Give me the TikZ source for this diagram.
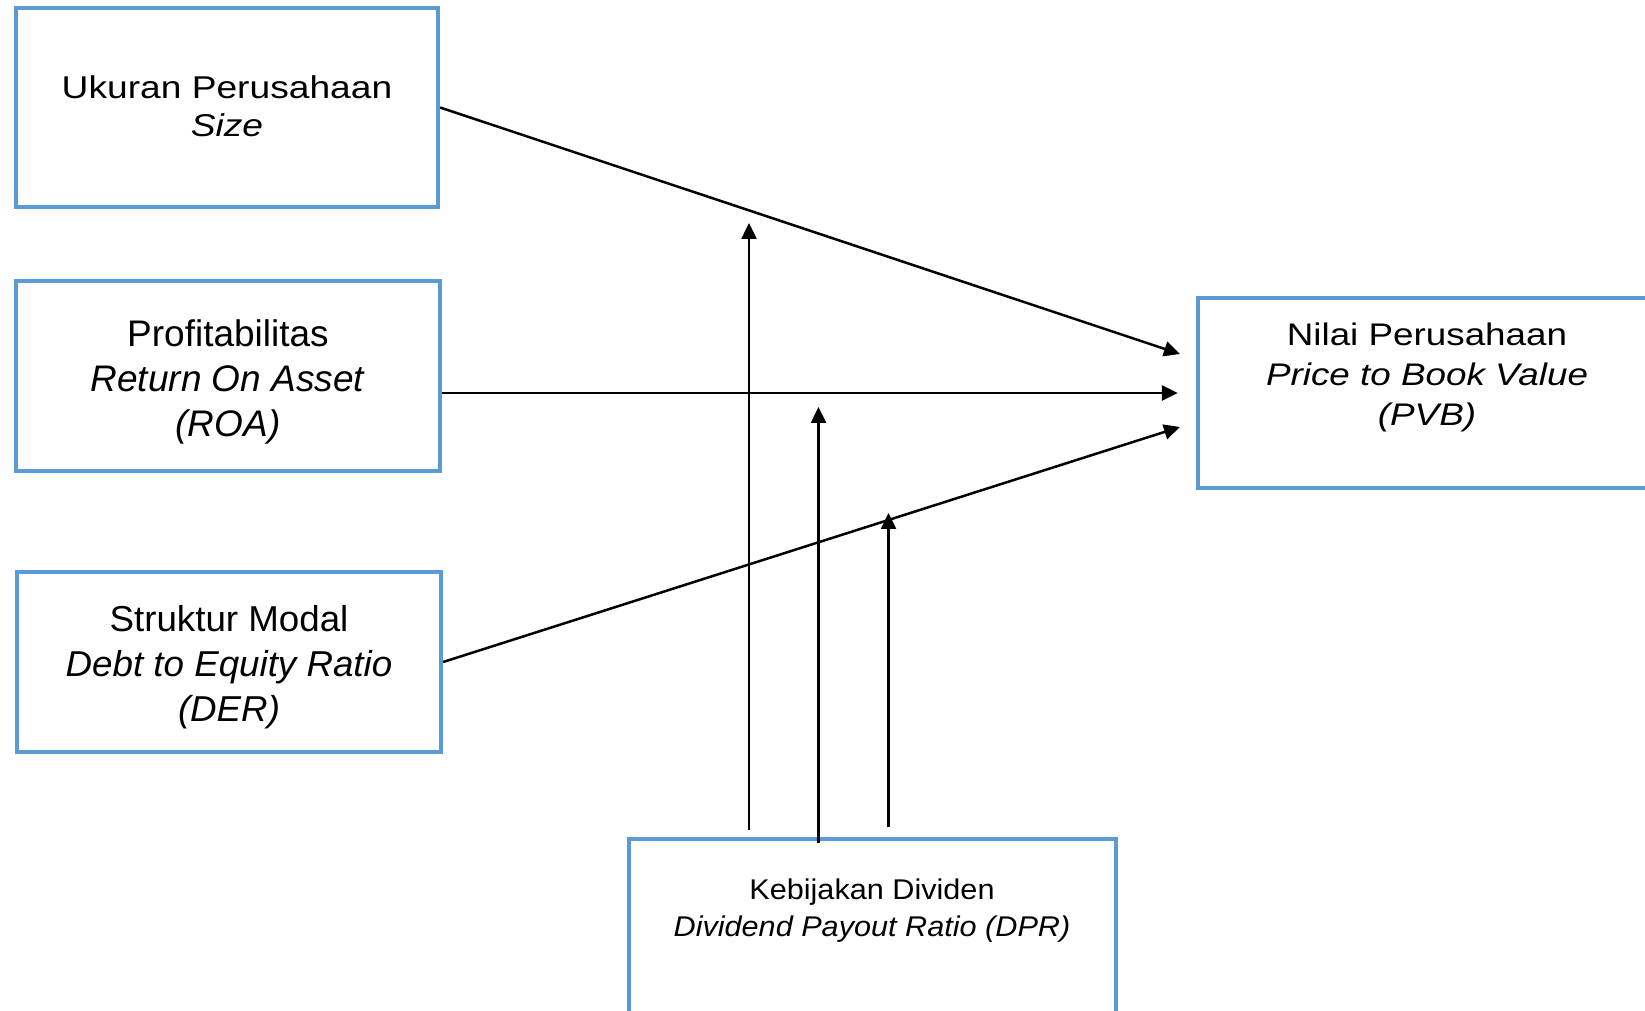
\documentclass[tikz,border=0pt]{standalone}
\usepackage{fontspec}
\newfontfamily\wfont{Liberation Sans}[FakeStretch=1.18]
\newfontfamily\pfont{Liberation Sans}
\newfontfamily\sfont{Liberation Sans}[FakeStretch=1.02]
\newfontfamily\nfont{Liberation Sans}[FakeStretch=1.075]
\usetikzlibrary{arrows.meta,calc}
\definecolor{boxblue}{HTML}{5B9BD5}
\begin{document}
\begin{tikzpicture}[x=1pt,y=1pt,
  box/.style={draw=boxblue, line width=4.3pt, rectangle, inner sep=0pt},
  lbl/.style={align=center, inner sep=0pt, text=black},
  arr/.style={draw=black, line width=2.5pt, -{Triangle[length=16pt,width=15pt]}}]
\useasboundingbox (0,0) rectangle (1645,1010);
\clip (0,0) rectangle (1645,1010);
\fill[white] (0,0) rectangle (1645,1010);
% boxes
\node[box, minimum width=422pt, minimum height=199pt] (b1) at (227,902.5) {};
\node[box, minimum width=424.3pt, minimum height=190.3pt] (b2) at (227.85,634.15) {};
\node[box, minimum width=424pt, minimum height=180pt] (b3) at (229,348) {};
\node[box, minimum width=462pt, minimum height=190pt] (b4) at (1429,617) {};
\node[box, minimum width=487pt, minimum height=201pt] (b5) at (872.5,70.5) {};
% texts
\node[lbl, font=\wfont\fontsize{31.5}{38}\selectfont] (t1) at (227,903.3) {Ukuran Perusahaan\\\textit{Size}};
\node[lbl, font=\pfont\fontsize{37}{45}\selectfont] (t2) at (228,627.6) {Profitabilitas\\\textit{Return On Asset}\\\textit{(ROA)}};
\node[lbl, font=\sfont\fontsize{36}{45}\selectfont] (t3) at (229,342.4) {Struktur Modal\\\textit{Debt to Equity Ratio}\\\textit{(DER)}};
\node[lbl, font=\wfont\fontsize{31.2}{40}\selectfont] (t4) at (1427,632.5) {Nilai Perusahaan\\\textit{Price to Book Value}\\\textit{(PVB)}};
\node[lbl, font=\nfont\fontsize{28.5}{37}\selectfont] (t5) at (872,99) {Kebijakan Dividen\\\textit{Dividend Payout Ratio (DPR)}};
% end points
\coordinate (e1) at (1180,656);
\coordinate (e3) at (1180,583);
\coordinate (m1) at (749,787);
\coordinate (m2) at (818.5,603);
\coordinate (m3) at (888.5,497);
% connectors
\draw[arr] (b1.east) -- (e1);
\draw[arr] (b2.east |- b4.west) -- ([xshift=-18pt]b4.west);
\draw[arr] (b3.east) -- (e3);
\draw[arr] ($(m1 |- b5.north)+(0,7)$) -- (m1);
\draw[arr] ($(m2 |- b5.north)+(0,-6)$) -- (m2);
\draw[arr] ($(m3 |- b5.north)+(0,10)$) -- (m3);
\end{tikzpicture}
\end{document}
